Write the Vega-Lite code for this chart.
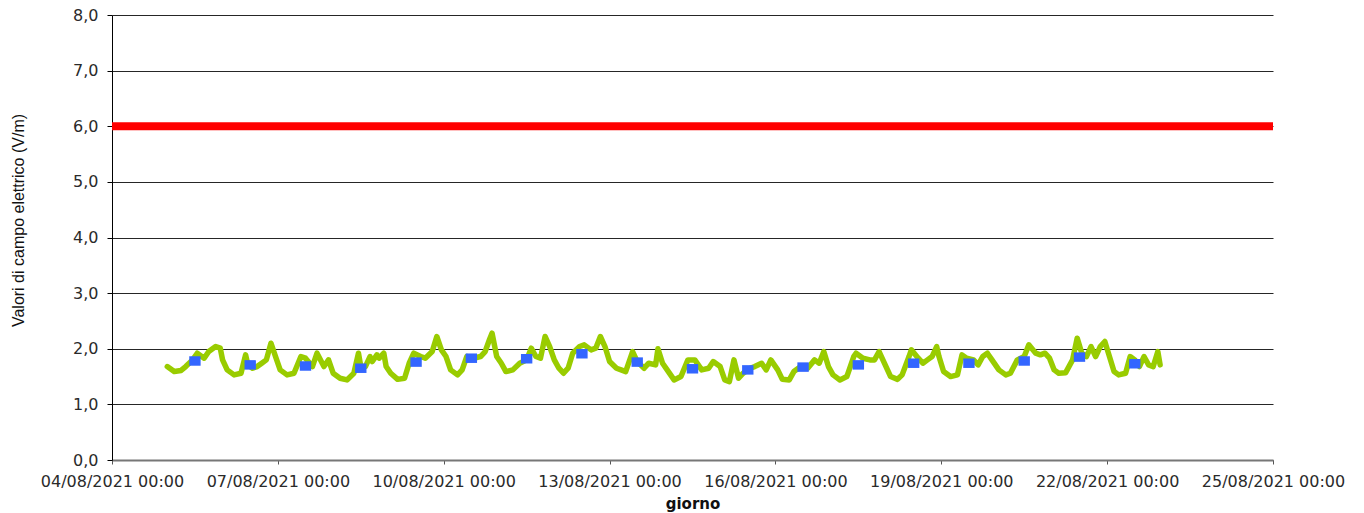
{
  "$schema": "https://vega.github.io/schema/vega-lite/v6.json",
  "width": 1161,
  "height": 445,
  "autosize": {"type": "none"},
  "padding": {"left": 112, "top": 15, "right": 91, "bottom": 53},
  "background": "white",
  "config": {
    "view": {"stroke": null},
    "font": "DejaVu Sans",
    "axis": {"labelFont": "DejaVu Sans", "titleFont": "DejaVu Sans", "labelColor": "#2a2a2a", "titleColor": "#111"}
  },
  "datasets": {
    "hourly": [
      {"t": "2021-08-05T00:00", "v": 1.68},
      {"t": "2021-08-05T03:00", "v": 1.59},
      {"t": "2021-08-05T06:00", "v": 1.61},
      {"t": "2021-08-05T08:00", "v": 1.68},
      {"t": "2021-08-05T11:00", "v": 1.80},
      {"t": "2021-08-05T13:00", "v": 1.92},
      {"t": "2021-08-05T16:00", "v": 1.83},
      {"t": "2021-08-05T18:00", "v": 1.95},
      {"t": "2021-08-05T21:00", "v": 2.04},
      {"t": "2021-08-05T23:00", "v": 2.01},
      {"t": "2021-08-06T00:00", "v": 1.80},
      {"t": "2021-08-06T02:00", "v": 1.62},
      {"t": "2021-08-06T05:00", "v": 1.53},
      {"t": "2021-08-06T08:00", "v": 1.56},
      {"t": "2021-08-06T10:00", "v": 1.89},
      {"t": "2021-08-06T11:00", "v": 1.71},
      {"t": "2021-08-06T13:00", "v": 1.65},
      {"t": "2021-08-06T15:00", "v": 1.68},
      {"t": "2021-08-06T17:00", "v": 1.74},
      {"t": "2021-08-06T19:00", "v": 1.80},
      {"t": "2021-08-06T21:00", "v": 2.10},
      {"t": "2021-08-06T23:00", "v": 1.86},
      {"t": "2021-08-07T01:00", "v": 1.62},
      {"t": "2021-08-07T04:00", "v": 1.53},
      {"t": "2021-08-07T07:00", "v": 1.56},
      {"t": "2021-08-07T10:00", "v": 1.86},
      {"t": "2021-08-07T12:00", "v": 1.83},
      {"t": "2021-08-07T15:00", "v": 1.68},
      {"t": "2021-08-07T17:00", "v": 1.92},
      {"t": "2021-08-07T20:00", "v": 1.68},
      {"t": "2021-08-07T22:00", "v": 1.80},
      {"t": "2021-08-08T00:00", "v": 1.56},
      {"t": "2021-08-08T03:00", "v": 1.47},
      {"t": "2021-08-08T06:00", "v": 1.44},
      {"t": "2021-08-08T09:00", "v": 1.56},
      {"t": "2021-08-08T11:00", "v": 1.92},
      {"t": "2021-08-08T12:00", "v": 1.68},
      {"t": "2021-08-08T14:00", "v": 1.68},
      {"t": "2021-08-08T16:00", "v": 1.86},
      {"t": "2021-08-08T17:00", "v": 1.77},
      {"t": "2021-08-08T19:00", "v": 1.89},
      {"t": "2021-08-08T20:00", "v": 1.83},
      {"t": "2021-08-08T22:00", "v": 1.92},
      {"t": "2021-08-08T23:00", "v": 1.68},
      {"t": "2021-08-09T01:00", "v": 1.56},
      {"t": "2021-08-09T04:00", "v": 1.45},
      {"t": "2021-08-09T07:00", "v": 1.47},
      {"t": "2021-08-09T09:00", "v": 1.74},
      {"t": "2021-08-09T11:00", "v": 1.92},
      {"t": "2021-08-09T14:00", "v": 1.86},
      {"t": "2021-08-09T16:00", "v": 1.83},
      {"t": "2021-08-09T19:00", "v": 1.95},
      {"t": "2021-08-09T21:00", "v": 2.22},
      {"t": "2021-08-09T23:00", "v": 1.98},
      {"t": "2021-08-10T01:00", "v": 1.86},
      {"t": "2021-08-10T03:00", "v": 1.62},
      {"t": "2021-08-10T06:00", "v": 1.53},
      {"t": "2021-08-10T08:00", "v": 1.62},
      {"t": "2021-08-10T10:00", "v": 1.86},
      {"t": "2021-08-10T13:00", "v": 1.83},
      {"t": "2021-08-10T16:00", "v": 1.86},
      {"t": "2021-08-10T18:00", "v": 1.95},
      {"t": "2021-08-10T20:00", "v": 2.18},
      {"t": "2021-08-10T21:00", "v": 2.28},
      {"t": "2021-08-10T23:00", "v": 1.86},
      {"t": "2021-08-11T01:00", "v": 1.74},
      {"t": "2021-08-11T03:00", "v": 1.59},
      {"t": "2021-08-11T06:00", "v": 1.62},
      {"t": "2021-08-11T09:00", "v": 1.74},
      {"t": "2021-08-11T12:00", "v": 1.80},
      {"t": "2021-08-11T14:00", "v": 2.01},
      {"t": "2021-08-11T16:00", "v": 1.86},
      {"t": "2021-08-11T18:00", "v": 1.83},
      {"t": "2021-08-11T20:00", "v": 2.22},
      {"t": "2021-08-11T22:00", "v": 2.04},
      {"t": "2021-08-12T00:00", "v": 1.80},
      {"t": "2021-08-12T02:00", "v": 1.65},
      {"t": "2021-08-12T04:00", "v": 1.56},
      {"t": "2021-08-12T06:00", "v": 1.65},
      {"t": "2021-08-12T08:00", "v": 1.92},
      {"t": "2021-08-12T11:00", "v": 2.04},
      {"t": "2021-08-12T13:00", "v": 2.07},
      {"t": "2021-08-12T16:00", "v": 1.98},
      {"t": "2021-08-12T18:00", "v": 2.01},
      {"t": "2021-08-12T20:00", "v": 2.22},
      {"t": "2021-08-12T22:00", "v": 2.04},
      {"t": "2021-08-13T00:00", "v": 1.77},
      {"t": "2021-08-13T03:00", "v": 1.65},
      {"t": "2021-08-13T05:00", "v": 1.62},
      {"t": "2021-08-13T07:00", "v": 1.59},
      {"t": "2021-08-13T10:00", "v": 1.95},
      {"t": "2021-08-13T12:00", "v": 1.77},
      {"t": "2021-08-13T15:00", "v": 1.65},
      {"t": "2021-08-13T17:00", "v": 1.74},
      {"t": "2021-08-13T20:00", "v": 1.71},
      {"t": "2021-08-13T21:00", "v": 2.00},
      {"t": "2021-08-13T23:00", "v": 1.74},
      {"t": "2021-08-14T01:00", "v": 1.62},
      {"t": "2021-08-14T04:00", "v": 1.44},
      {"t": "2021-08-14T07:00", "v": 1.50},
      {"t": "2021-08-14T10:00", "v": 1.80},
      {"t": "2021-08-14T13:00", "v": 1.80},
      {"t": "2021-08-14T16:00", "v": 1.62},
      {"t": "2021-08-14T19:00", "v": 1.65},
      {"t": "2021-08-14T21:00", "v": 1.77},
      {"t": "2021-08-15T00:00", "v": 1.68},
      {"t": "2021-08-15T02:00", "v": 1.44},
      {"t": "2021-08-15T04:00", "v": 1.41},
      {"t": "2021-08-15T06:00", "v": 1.80},
      {"t": "2021-08-15T08:00", "v": 1.47},
      {"t": "2021-08-15T10:00", "v": 1.56},
      {"t": "2021-08-15T13:00", "v": 1.65},
      {"t": "2021-08-15T15:00", "v": 1.68},
      {"t": "2021-08-15T18:00", "v": 1.74},
      {"t": "2021-08-15T20:00", "v": 1.62},
      {"t": "2021-08-15T22:00", "v": 1.80},
      {"t": "2021-08-16T01:00", "v": 1.62},
      {"t": "2021-08-16T03:00", "v": 1.45},
      {"t": "2021-08-16T06:00", "v": 1.44},
      {"t": "2021-08-16T08:00", "v": 1.59},
      {"t": "2021-08-16T11:00", "v": 1.68},
      {"t": "2021-08-16T14:00", "v": 1.65},
      {"t": "2021-08-16T17:00", "v": 1.80},
      {"t": "2021-08-16T19:00", "v": 1.74},
      {"t": "2021-08-16T21:00", "v": 1.95},
      {"t": "2021-08-16T23:00", "v": 1.68},
      {"t": "2021-08-17T01:00", "v": 1.53},
      {"t": "2021-08-17T04:00", "v": 1.44},
      {"t": "2021-08-17T07:00", "v": 1.50},
      {"t": "2021-08-17T10:00", "v": 1.86},
      {"t": "2021-08-17T11:00", "v": 1.92},
      {"t": "2021-08-17T14:00", "v": 1.83},
      {"t": "2021-08-17T17:00", "v": 1.80},
      {"t": "2021-08-17T19:00", "v": 1.80},
      {"t": "2021-08-17T21:00", "v": 1.95},
      {"t": "2021-08-18T00:00", "v": 1.68},
      {"t": "2021-08-18T02:00", "v": 1.50},
      {"t": "2021-08-18T05:00", "v": 1.45},
      {"t": "2021-08-18T07:00", "v": 1.53},
      {"t": "2021-08-18T10:00", "v": 1.86},
      {"t": "2021-08-18T11:00", "v": 1.98},
      {"t": "2021-08-18T14:00", "v": 1.83},
      {"t": "2021-08-18T16:00", "v": 1.74},
      {"t": "2021-08-18T18:00", "v": 1.80},
      {"t": "2021-08-18T20:00", "v": 1.86},
      {"t": "2021-08-18T22:00", "v": 2.04},
      {"t": "2021-08-18T23:00", "v": 1.86},
      {"t": "2021-08-19T01:00", "v": 1.59},
      {"t": "2021-08-19T04:00", "v": 1.50},
      {"t": "2021-08-19T07:00", "v": 1.53},
      {"t": "2021-08-19T09:00", "v": 1.89},
      {"t": "2021-08-19T11:00", "v": 1.83},
      {"t": "2021-08-19T14:00", "v": 1.80},
      {"t": "2021-08-19T16:00", "v": 1.71},
      {"t": "2021-08-19T18:00", "v": 1.86},
      {"t": "2021-08-19T20:00", "v": 1.92},
      {"t": "2021-08-19T22:00", "v": 1.80},
      {"t": "2021-08-20T01:00", "v": 1.62},
      {"t": "2021-08-20T04:00", "v": 1.53},
      {"t": "2021-08-20T06:00", "v": 1.56},
      {"t": "2021-08-20T09:00", "v": 1.80},
      {"t": "2021-08-20T12:00", "v": 1.86},
      {"t": "2021-08-20T14:00", "v": 2.07},
      {"t": "2021-08-20T17:00", "v": 1.92},
      {"t": "2021-08-20T19:00", "v": 1.89},
      {"t": "2021-08-20T21:00", "v": 1.92},
      {"t": "2021-08-20T23:00", "v": 1.83},
      {"t": "2021-08-21T01:00", "v": 1.62},
      {"t": "2021-08-21T03:00", "v": 1.56},
      {"t": "2021-08-21T06:00", "v": 1.57},
      {"t": "2021-08-21T09:00", "v": 1.80},
      {"t": "2021-08-21T11:00", "v": 2.19},
      {"t": "2021-08-21T13:00", "v": 1.92},
      {"t": "2021-08-21T15:00", "v": 1.86},
      {"t": "2021-08-21T17:00", "v": 2.04},
      {"t": "2021-08-21T19:00", "v": 1.86},
      {"t": "2021-08-21T21:00", "v": 2.04},
      {"t": "2021-08-21T23:00", "v": 2.13},
      {"t": "2021-08-22T01:00", "v": 1.86},
      {"t": "2021-08-22T03:00", "v": 1.59},
      {"t": "2021-08-22T05:00", "v": 1.53},
      {"t": "2021-08-22T08:00", "v": 1.56},
      {"t": "2021-08-22T10:00", "v": 1.86},
      {"t": "2021-08-22T12:00", "v": 1.80},
      {"t": "2021-08-22T14:00", "v": 1.68},
      {"t": "2021-08-22T16:00", "v": 1.86},
      {"t": "2021-08-22T18:00", "v": 1.71},
      {"t": "2021-08-22T20:00", "v": 1.68},
      {"t": "2021-08-22T22:00", "v": 1.95},
      {"t": "2021-08-22T23:00", "v": 1.71}
    ],
    "daily": [
      {"t": "2021-08-05T12:00", "v": 1.78},
      {"t": "2021-08-06T12:00", "v": 1.71},
      {"t": "2021-08-07T12:00", "v": 1.69},
      {"t": "2021-08-08T12:00", "v": 1.65},
      {"t": "2021-08-09T12:00", "v": 1.76},
      {"t": "2021-08-10T12:00", "v": 1.83},
      {"t": "2021-08-11T12:00", "v": 1.82},
      {"t": "2021-08-12T12:00", "v": 1.91},
      {"t": "2021-08-13T12:00", "v": 1.76},
      {"t": "2021-08-14T12:00", "v": 1.64},
      {"t": "2021-08-15T12:00", "v": 1.62},
      {"t": "2021-08-16T12:00", "v": 1.67},
      {"t": "2021-08-17T12:00", "v": 1.71},
      {"t": "2021-08-18T12:00", "v": 1.74},
      {"t": "2021-08-19T12:00", "v": 1.74},
      {"t": "2021-08-20T12:00", "v": 1.78},
      {"t": "2021-08-21T12:00", "v": 1.85},
      {"t": "2021-08-22T12:00", "v": 1.73}
    ],
    "limit": [
      {"v": 6}
    ]
  },
  "layer": [
    {
      "data": {"name": "hourly"},
      "mark": {"type": "line", "color": "#99cc00", "strokeWidth": 5.5, "strokeJoin": "round", "strokeCap": "round"},
      "encoding": {
        "x": {
          "field": "t",
          "type": "temporal",
          "title": "giorno",
          "scale": {"domain": [{"year": 2021, "month": 8, "date": 4}, {"year": 2021, "month": 8, "date": 25}]},
          "axis": {
            "values": [
              {"year": 2021, "month": 8, "date": 4},
              {"year": 2021, "month": 8, "date": 7},
              {"year": 2021, "month": 8, "date": 10},
              {"year": 2021, "month": 8, "date": 13},
              {"year": 2021, "month": 8, "date": 16},
              {"year": 2021, "month": 8, "date": 19},
              {"year": 2021, "month": 8, "date": 22},
              {"year": 2021, "month": 8, "date": 25}
            ],
            "format": "%d/%m/%Y %H:%M",
            "labelFontSize": 16,
            "labelPadding": 9,
            "labelFlush": false,
            "labelOverlap": false,
            "tickSize": 4,
            "tickColor": "#555",
            "domainColor": "#777",
            "domainWidth": 2,
            "grid": false,
            "titleFontSize": 15,
            "titleFontWeight": "bold",
            "titlePadding": 7
          }
        },
        "y": {
          "field": "v",
          "type": "quantitative",
          "title": "Valori di campo elettrico (V/m)",
          "scale": {"domain": [0, 8], "nice": false, "zero": true},
          "axis": {
            "values": [0, 1, 2, 3, 4, 5, 6, 7, 8],
            "labelExpr": "replace(format(datum.value, '.1f'), '.', ',')",
            "labelFontSize": 16,
            "labelPadding": 9,
            "tickSize": 5,
            "tickColor": "#000",
            "domainColor": "#000",
            "grid": true,
            "gridColor": "#000",
            "gridWidth": 1,
            "gridOpacity": 0.85,
            "titleFont": "Liberation Sans",
            "titleFontSize": 16,
            "titleFontWeight": "normal",
            "titlePadding": 46,
            "titleY": 205
          }
        }
      }
    },
    {
      "data": {"name": "daily"},
      "mark": {"type": "point", "shape": "M-1.2,-1L1.2,-1L1.2,1L-1.2,1Z", "filled": true, "color": "#3366ff", "opacity": 1, "size": 90},
      "encoding": {
        "x": {"field": "t", "type": "temporal", "title": "giorno"},
        "y": {"field": "v", "type": "quantitative", "title": "Valori di campo elettrico (V/m)"}
      }
    },
    {
      "data": {"name": "limit"},
      "mark": {"type": "rule", "color": "#ff0000", "strokeWidth": 8},
      "encoding": {"y": {"field": "v", "type": "quantitative", "title": "Valori di campo elettrico (V/m)"}}
    }
  ]
}
